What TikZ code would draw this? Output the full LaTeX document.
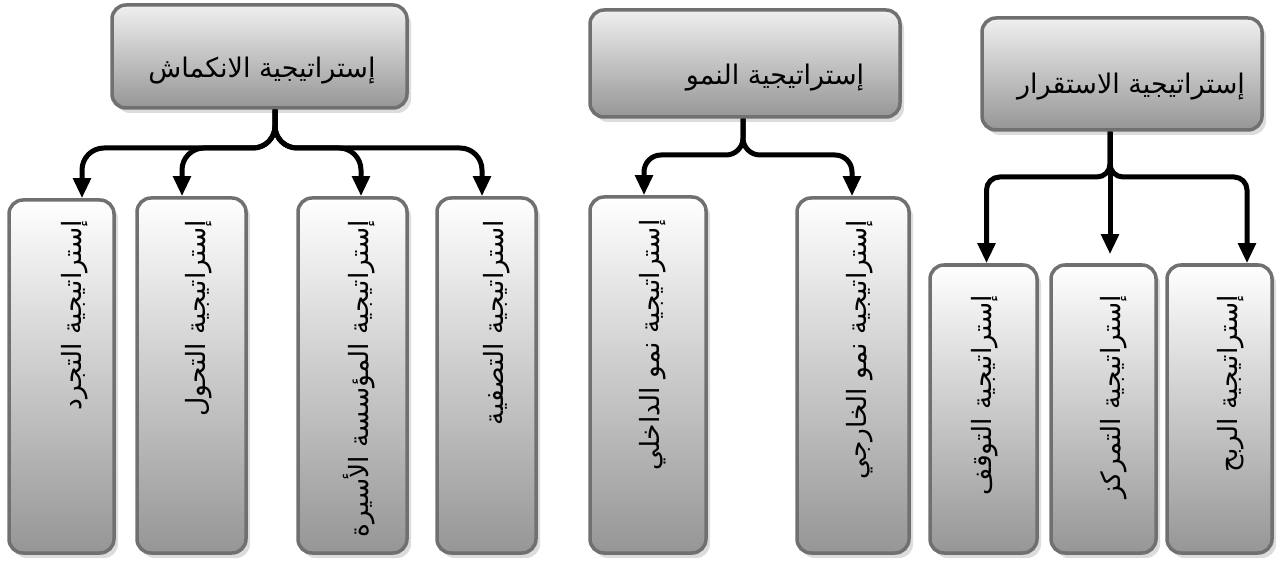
\documentclass[tikz,border=0pt]{standalone}
\usepackage{fontspec}
\newfontfamily\arabicfont[Script=Arabic]{DejaVu Sans}
\TeXXeTstate=1
\usetikzlibrary{arrows.meta,shadows,calc}
\definecolor{boxborder}{RGB}{112,112,112}
\definecolor{boxbottom}{RGB}{150,150,150}
\definecolor{shadowgray}{RGB}{185,185,185}
\tikzset{
  stratbox/.style={rectangle, rounded corners=14pt, draw=boxborder, line width=3.5pt,
    top color=white, bottom color=boxbottom, inner sep=0pt,
    drop shadow={shadow xshift=4pt, shadow yshift=-5pt, fill=shadowgray}},
  topbox/.style={stratbox, top color=black!6},
  conn/.style={line width=5pt, rounded corners=22pt, -{Triangle[length=20pt,width=17pt]}},
  tightconn/.style={conn, rounded corners=13pt},
  vlabel/.style={font=\arabicfont\fontsize{26.5}{30}\selectfont, rotate=90, anchor=east, inner sep=0pt},
  hlabel/.style={font=\arabicfont\fontsize{27}{30}\selectfont, inner sep=0pt},
}
\begin{document}
\begin{tikzpicture}[x=1pt,y=-1pt]
\useasboundingbox (0,0) rectangle (1276,561);
% top boxes
\node[topbox, minimum width=295pt, minimum height=103pt] (T1) at (259.5,56.5) {};
\node[topbox, minimum width=310pt, minimum height=107pt] (T2) at (745,63.5) {};
\node[topbox, minimum width=280pt, minimum height=112pt] (T3) at (1122,74) {};
\node[hlabel] (t1l) at (262,71) {\beginR إستراتيجية الانكماش\endR};
\node[hlabel] (t2l) at (775,78) {\beginR إستراتيجية النمو\endR};
\node[hlabel] (t3l) at (1131,87) {\beginR إستراتيجية الاستقرار\endR};
% bottom boxes, left group
\node[stratbox, minimum width=105pt, minimum height=353pt] (B1) at (61.5,376.5) {};
\node[stratbox, minimum width=109pt, minimum height=355pt] (B2) at (191.5,375.5) {};
\node[stratbox, minimum width=109pt, minimum height=355pt] (B3) at (352.5,375.5) {};
\node[stratbox, minimum width=99pt, minimum height=355pt] (B4) at (486.5,375.5) {};
% middle group
\node[stratbox, minimum width=116pt, minimum height=356pt] (M1) at (648,375) {};
\node[stratbox, minimum width=112pt, minimum height=355pt] (M2) at (853,375.5) {};
% right group
\node[stratbox, minimum width=107pt, minimum height=288pt] (S1) at (983.5,409) {};
\node[stratbox, minimum width=105pt, minimum height=288pt] (S2) at (1103.5,409) {};
\node[stratbox, minimum width=105pt, minimum height=288pt] (S3) at (1219.5,409) {};
% vertical labels
\node[vlabel] (b1l) at ($(B1.north)+(13,22)$) {\beginR إستراتيجية التجرد\endR};
\node[vlabel] (b2l) at ($(B2.north)+(7.5,24)$) {\beginR إستراتيجية التحول\endR};
\node[vlabel] (b3l) at ($(B3.north)+(6.5,24)$) {\beginR إستراتيجية المؤسسة الأسيرة\endR};
\node[vlabel] (b4l) at ($(B4.north)+(10.5,24)$) {\beginR استراتيجية التصفية\endR};
\node[vlabel] (m1l) at ($(M1.north)+(5,24)$) {\beginR إستراتيجية نمو الداخلي\endR};
\node[vlabel] (m2l) at ($(M2.north)+(7,24)$) {\beginR إستراتيجية نمو الخارجي\endR};
\node[vlabel] (s1l) at ($(S1.north)+(1.5,32)$) {\beginR إستراتيجية التوقف\endR};
\node[vlabel] (s2l) at ($(S2.north)+(10,32)$) {\beginR إستراتيجية التمركز\endR};
\node[vlabel] (s3l) at ($(S3.north)+(11.5,32)$) {\beginR إستراتيجية الربح\endR};
% connector anchor points
\coordinate (L0) at ([xshift=15.5pt]T1.south);
\coordinate (Lh) at (0,148);
\coordinate (B1t) at ([xshift=20.5pt]B1.north);
\coordinate (B2t) at ([xshift=-9.5pt]B2.north);
\coordinate (B3t) at ([xshift=8.5pt]B3.north);
\coordinate (B4t) at ([xshift=-4.5pt]B4.north);
\coordinate (M0) at ([xshift=-2pt]T2.south);
\coordinate (Mh) at (0,155);
\coordinate (M1t) at ([xshift=-4pt]M1.north);
\coordinate (M2t) at ([xshift=-1pt]M2.north);
\coordinate (R0) at ([xshift=-12pt]T3.south);
\coordinate (Rh) at (0,177);
\coordinate (S1t) at ([xshift=3pt]S1.north);
\coordinate (S2t) at ([xshift=6.5pt,yshift=9pt]S2.north);
\coordinate (S3t) at ([xshift=27.5pt]S3.north);
% connectors
\draw[conn] (L0) -- (L0 |- Lh) -| (B1t);
\draw[conn] (L0) -- (L0 |- Lh) -| (B2t);
\draw[conn] (L0) -- (L0 |- Lh) -| (B3t);
\draw[conn] (L0) -- (L0 |- Lh) -| (B4t);
\draw[conn, rounded corners=17pt] (M0) -- (M0 |- Mh) -| (M1t);
\draw[conn, rounded corners=17pt] (M0) -- (M0 |- Mh) -| (M2t);
\draw[tightconn] (R0) -- (R0 |- Rh) -| (S1t);
\draw[conn] (R0) -- (R0 |- S2t);
\draw[tightconn] (R0) -- (R0 |- Rh) -| (S3t);
\end{tikzpicture}
\end{document}
